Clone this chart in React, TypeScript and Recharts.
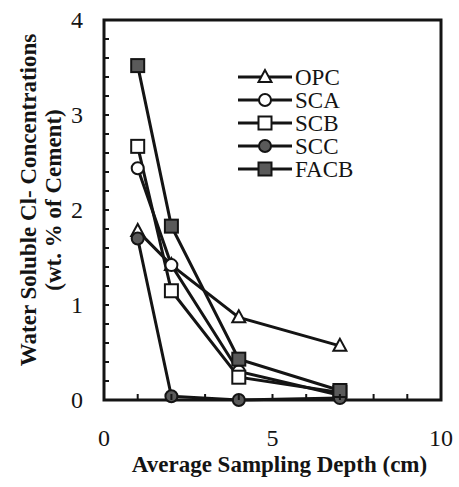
import React from 'react';
import { Legend, Line, LineChart, ReferenceArea, XAxis, YAxis } from 'recharts';

const depths = [1, 2, 4, 7];
const opc = [1.78, 1.42, 0.87, 0.57];
const sca = [2.44, 1.42, 0.3, 0.05];
const scb = [2.67, 1.15, 0.24, 0.08];
const scc = [1.7, 0.04, 0.0, 0.02];
const facb = [3.52, 1.83, 0.43, 0.1];

const xTicks = [0, 1, 2, 3, 4, 5, 6, 7, 8, 9, 10];
const xLabels = [0, 5, 10];
const yTicks = [0, 0.2, 0.4, 0.6, 0.8, 1, 1.2, 1.4, 1.6, 1.8, 2, 2.2, 2.4, 2.6, 2.8, 3, 3.2, 3.4, 3.6, 3.8, 4];
const yLabels = [0, 1, 2, 3, 4];

const INK = '#141414';
const FONT = "'Liberation Serif', 'Times New Roman', serif";

const series = [
    { name: 'OPC', values: opc, shape: 'triangle', fill: '#fff' },
    { name: 'SCA', values: sca, shape: 'circle', fill: '#fff' },
    { name: 'SCB', values: scb, shape: 'square', fill: '#fff' },
    { name: 'SCC', values: scc, shape: 'circle', fill: '#5a5a5a' },
    { name: 'FACB', values: facb, shape: 'square', fill: '#5a5a5a' },
];

const toPoints = (values: number[]) => depths.map((x, i) => ({ x, y: values[i] }));

const Marker = ({ cx, cy, shape, fill }: { cx: number; cy: number; shape: string; fill: string }) => {
    if (cx == null || cy == null) return null;
    if (shape === 'triangle') {
        return (
            <polygon
                points={`${cx},${cy - 7} ${cx - 6.5},${cy + 5} ${cx + 6.5},${cy + 5}`}
                fill={fill}
                stroke={INK}
                strokeWidth={2}
            />
        );
    }
    if (shape === 'square') {
        return <rect x={cx - 6.5} y={cy - 6.5} width={13} height={13} fill={fill} stroke={INK} strokeWidth={2} />;
    }
    return <circle cx={cx} cy={cy} r={6} fill={fill} stroke={INK} strokeWidth={2} />;
};

const textStyle = { fontFamily: FONT, fill: INK };

const XTick = (props: any) => {
    const { x, y, payload } = props;
    return (
        <g>
            <line x1={x} x2={x} y1={y} y2={y - 6} stroke={INK} strokeWidth={2} />
            {xLabels.includes(payload.value) && (
                <text x={x} y={y + 46} textAnchor="middle" style={{ ...textStyle, fontSize: 24 }}>
                    {payload.value}
                </text>
            )}
        </g>
    );
};

const YTick = (props: any) => {
    const { x, y, payload } = props;
    return (
        <g>
            <line x1={x} x2={x + 5} y1={y} y2={y} stroke={INK} strokeWidth={2} />
            {yLabels.includes(payload.value) && (
                <text x={x - 21} y={y + 8} textAnchor="end" style={{ ...textStyle, fontSize: 24 }}>
                    {payload.value}
                </text>
            )}
        </g>
    );
};

const LegendBox = () => (
    <svg width={130} height={120}>
        {series.map((s, i) => {
            const cy = 12 + i * 23;
            return (
                <g key={s.name}>
                    <line x1={2} x2={56} y1={cy} y2={cy} stroke={INK} strokeWidth={3} />
                    <Marker cx={29} cy={cy} shape={s.shape} fill={s.fill} />
                    <text x={59} y={cy + 8} style={{ ...textStyle, fontSize: 23 }}>
                        {s.name}
                    </text>
                </g>
            );
        })}
    </svg>
);

export default function App() {
    return (
        <div style={{ position: 'absolute', left: 0, top: 0, background: '#fff' }}>
            <LineChart width={459} height={487} margin={{ top: 20, right: 18, left: 0, bottom: 0 }}>
                <XAxis
                    dataKey="x"
                    type="number"
                    domain={[0, 10]}
                    ticks={xTicks}
                    interval={0}
                    height={87}
                    axisLine={false}
                    tickLine={false}
                    tickSize={0}
                    tickMargin={0}
                    tick={<XTick />}
                    label={{
                        content: (p: any) => {
                            const cx = p.viewBox.x + p.viewBox.width / 2 + 7;
                            return (
                                <text x={cx} y={p.viewBox.y + 72} textAnchor="middle" style={{ ...textStyle, fontSize: 23, fontWeight: 'bold' }}>
                                    Average Sampling Depth (cm)
                                </text>
                            );
                        },
                    }}
                />
                <YAxis
                    dataKey="y"
                    type="number"
                    domain={[0, 4]}
                    ticks={yTicks}
                    interval={0}
                    width={104}
                    axisLine={false}
                    tickLine={false}
                    tickSize={0}
                    tickMargin={0}
                    tick={<YTick />}
                    label={{
                        content: (p: any) => {
                            const cy = p.viewBox.y + p.viewBox.height / 2 - 10;
                            return (
                                <g style={{ ...textStyle, fontSize: 23, fontWeight: 'bold' }}>
                                    <text x={28} y={cy} textAnchor="middle" dominantBaseline="central" transform={`rotate(-90, 28, ${cy})`}>
                                        Water Soluble Cl- Concentrations
                                    </text>
                                    <text x={53} y={cy} textAnchor="middle" dominantBaseline="central" transform={`rotate(-90, 53, ${cy})`}>
                                        (wt. % of Cement)
                                    </text>
                                </g>
                            );
                        },
                    }}
                />
                <ReferenceArea x1={0} x2={10} y1={0} y2={4} fill="none" stroke={INK} strokeWidth={3} ifOverflow="visible" />
                {series.map((s) => (
                    <Line
                        key={s.name}
                        name={s.name}
                        data={toPoints(s.values)}
                        dataKey="y"
                        type="linear"
                        stroke={INK}
                        strokeWidth={3}
                        isAnimationActive={false}
                        dot={(p: any) => <Marker key={`${s.name}-${p.index}`} cx={p.cx} cy={p.cy} shape={s.shape} fill={s.fill} />}
                        activeDot={false}
                    />
                ))}
                <Legend
                    layout="vertical"
                    align="center"
                    verticalAlign="middle"
                    content={() => <LegendBox />}
                    wrapperStyle={{ position: 'absolute', left: 236, top: 65, width: 130, height: 120 }}
                />
            </LineChart>
        </div>
    );
}
